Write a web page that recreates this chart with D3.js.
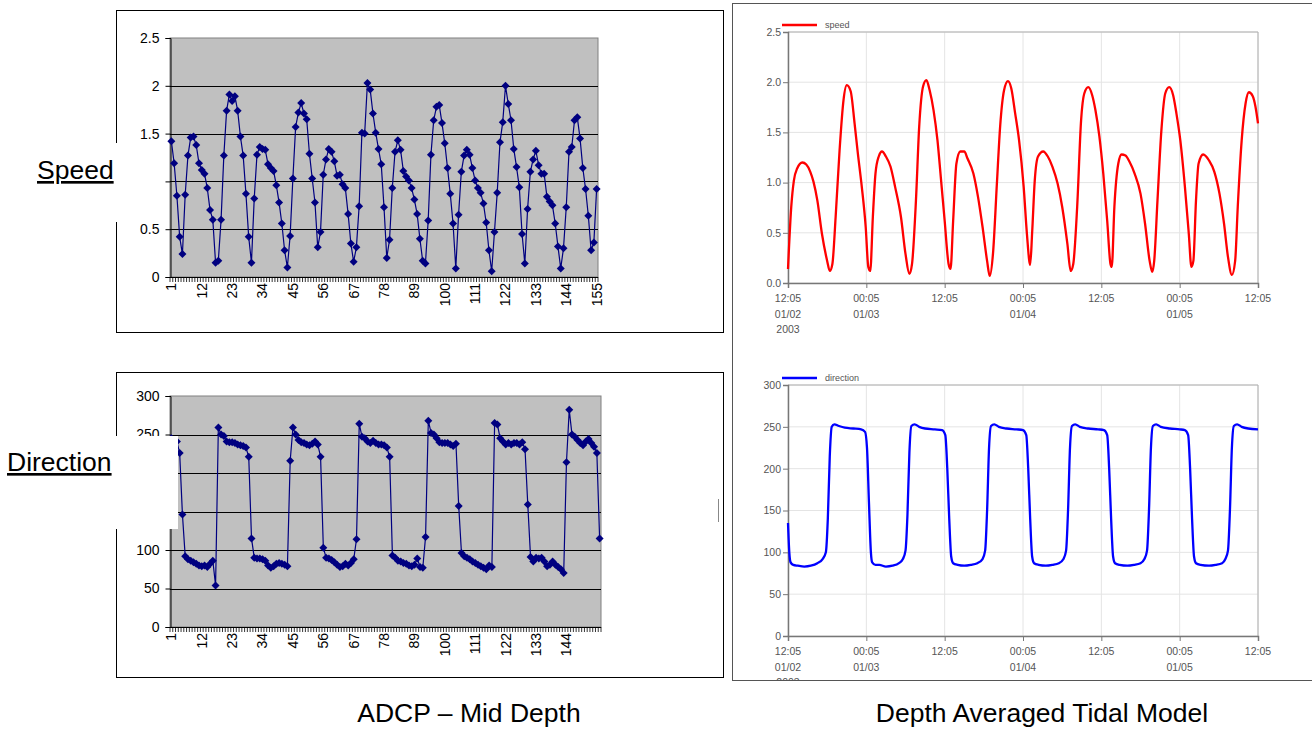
<!DOCTYPE html>
<html>
<head>
<meta charset="utf-8">
<script src="https://cdn.jsdelivr.net/npm/d3@7"></script>
<style>
  body { margin: 0; background: #fff; }
  svg { display: block; }
</style>
</head>
<body>
<script>
// ADCP mid depth, speed per sample (1..155)
const adcpSpeed = [
  1.42,1.19,0.85,0.42,0.24,0.86,1.27,1.46,1.47,1.38,
  1.19,1.12,1.08,0.93,0.70,0.60,0.15,0.17,0.60,1.27,
  1.74,1.91,1.84,1.89,1.74,1.47,1.27,0.87,0.42,0.15,
  0.82,1.28,1.36,1.34,1.33,1.18,1.14,1.11,0.96,0.78,
  0.56,0.28,0.10,0.43,1.03,1.57,1.72,1.82,1.71,1.65,
  1.29,1.03,0.78,0.31,0.47,1.07,1.23,1.34,1.31,1.21,
  1.06,1.07,0.97,0.93,0.66,0.35,0.16,0.31,0.74,1.51,
  1.50,2.03,1.96,1.71,1.51,1.34,1.18,0.73,0.20,0.39,
  0.93,1.31,1.43,1.33,1.11,1.05,1.01,0.93,0.81,0.66,
  0.40,0.17,0.14,0.59,1.28,1.64,1.78,1.80,1.61,1.40,
  1.14,0.87,0.56,0.09,0.65,1.10,1.27,1.33,1.28,1.14,
  1.01,0.93,0.88,0.77,0.57,0.28,0.06,0.47,0.88,1.41,
  1.62,2.00,1.81,1.64,1.34,1.15,0.94,0.45,0.14,0.71,
  1.10,1.23,1.32,1.17,1.08,1.08,0.84,0.79,0.75,0.56,
  0.32,0.09,0.30,0.73,1.31,1.36,1.64,1.67,1.45,1.14,
  0.92,0.64,0.28,0.36,0.92
];

// ADCP mid depth, direction per sample (1..156)
const adcpDirection = [
  245,243,241,226,146,92,88,86,84,82,
  80,79,80,78,82,86,54,259,250,248,
  241,240,240,239,237,236,235,233,221,115,
  90,89,89,88,86,80,77,79,82,83,
  82,81,79,216,259,250,243,240,239,237,
  236,238,241,237,221,103,90,89,87,84,
  81,78,79,82,80,83,88,114,264,247,
  245,241,239,242,239,237,237,236,233,221,
  93,90,86,85,83,82,80,79,81,89,
  78,77,117,268,252,250,245,240,239,239,
  239,237,235,238,157,96,92,90,88,85,
  83,81,79,77,75,80,78,265,263,245,
  241,237,239,237,239,239,237,240,231,159,
  91,85,90,89,90,85,79,81,85,81,
  78,75,70,214,282,250,247,243,239,236,
  241,244,239,234,226,115
];

const speedTickLabels = ["1","12","23","34","45","56","67","78","89","100","111","122","133","144","155"];
const dirTickLabels = ["1","12","23","34","45","56","67","78","89","100","111","122","133","144"];

// depth averaged tidal model, hours after 01/02 12:05
const modelSpeedHours = [
  0.0,0.5,0.9,1.4,2.2,2.8,3.4,3.9,4.5,5.2,
  6.0,6.4,6.8,7.3,7.9,8.5,9.0,9.6,10.2,10.7,
  11.3,11.9,12.3,12.6,13.0,13.4,13.9,14.4,15.0,15.7,
  16.4,17.3,18.0,18.6,19.0,19.6,20.1,20.7,21.2,21.7,
  22.3,22.9,23.4,24.0,24.6,24.9,25.3,25.8,26.4,27.0,
  27.5,28.4,29.1,29.8,30.5,30.9,31.4,32.0,32.5,33.1,
  33.7,34.2,34.8,35.4,36.1,36.6,37.1,37.4,37.8,38.3,
  39.1,39.8,40.5,41.3,42.0,42.8,43.3,43.7,44.3,44.9,
  45.4,46.0,46.6,47.1,47.7,48.3,48.9,49.4,49.6,50.0,
  50.6,51.1,51.7,52.3,53.1,54.0,54.7,55.4,55.8,56.1,
  56.6,57.2,57.8,58.4,59.0,59.5,60.1,60.8,61.4,61.8,
  62.1,62.5,62.9,63.6,64.5,65.3,66.1,66.8,67.4,68.0,
  68.5,68.9,69.5,70.1,70.6,71.2,71.6,72.0
];
const modelSpeed = [
  0.14,0.76,1.02,1.14,1.20,1.18,1.11,1.01,0.82,0.49,
  0.22,0.12,0.19,0.66,1.32,1.82,1.97,1.91,1.59,1.29,
  0.96,0.56,0.16,0.12,0.66,1.09,1.26,1.31,1.26,1.16,
  0.96,0.66,0.29,0.09,0.19,0.82,1.56,1.96,2.02,1.92,
  1.72,1.42,1.06,0.62,0.19,0.14,0.62,1.19,1.31,1.31,
  1.24,1.09,0.86,0.56,0.22,0.07,0.29,0.99,1.56,1.92,
  2.01,1.94,1.69,1.42,0.96,0.49,0.18,0.50,1.02,1.26,
  1.31,1.26,1.16,0.99,0.76,0.39,0.12,0.19,0.76,1.62,
  1.89,1.95,1.87,1.72,1.46,1.09,0.62,0.19,0.16,0.76,
  1.19,1.28,1.27,1.21,1.09,0.89,0.59,0.22,0.11,0.22,
  0.82,1.52,1.89,1.95,1.87,1.69,1.42,0.96,0.49,0.16,
  0.22,0.82,1.19,1.28,1.22,1.11,0.89,0.59,0.26,0.08,
  0.22,0.76,1.42,1.79,1.90,1.86,1.76,1.59
];

const modelDirHours = [
  0.0,0.2,0.4,0.8,1.5,2.5,3.5,4.5,5.3,5.8,
  6.1,6.4,6.7,7.1,7.8,8.7,10.0,11.2,11.8,12.1,
  12.4,12.7,12.9,13.4,14.0,15.0,16.0,17.0,17.6,18.0,
  18.3,18.6,18.9,19.4,20.1,21.0,22.5,23.6,24.1,24.4,
  24.7,25.0,25.3,26.0,27.0,28.0,29.0,29.8,30.2,30.5,
  30.8,31.1,31.6,32.3,33.5,35.0,36.0,36.5,36.8,37.1,
  37.4,37.7,38.4,39.5,40.5,41.5,42.2,42.6,42.9,43.2,
  43.5,44.0,44.7,46.0,47.5,48.4,48.9,49.2,49.5,49.8,
  50.1,50.8,52.0,53.0,54.0,54.6,55.0,55.3,55.6,55.9,
  56.4,57.1,58.5,60.0,60.8,61.3,61.6,61.9,62.2,62.5,
  63.2,64.5,65.5,66.5,67.0,67.4,67.7,68.0,68.3,68.8,
  69.5,70.5,72.0
];
const modelDirection = [
  135,100,88,85,84,83,84,87,92,100,
  140,215,250,253,251,249,248,247,244,225,
  160,100,88,85,85,83,84,87,92,102,
  145,220,251,253,250,248,247,246,240,200,
  140,95,87,85,84,85,87,92,102,150,
  225,251,253,250,248,247,246,240,200,140,
  95,87,85,84,85,87,92,102,150,225,
  251,253,250,248,247,246,240,200,140,95,
  87,85,84,85,87,92,102,150,225,251,
  253,250,248,247,246,240,200,140,95,87,
  85,84,85,87,92,102,150,225,251,253,
  250,248,247
];

const timeTicks = [0, 12, 24, 36, 48, 60, 72];
const timeTickLabels = [
  ["12:05","01/02","2003"], ["00:05","01/03"], ["12:05"], ["00:05","01/04"],
  ["12:05"], ["00:05","01/05"], ["12:05"]
];

const svg = d3.select("body").append("svg")
  .attr("width", 1312)
  .attr("height", 729);

const excelFont = "'Liberation Sans', Arial, sans-serif";
const navy = "#000080";

// Excel style line chart with diamond markers
function excelChart(values, labels, xr, yr, yDomain, yTicks) {
  const cats = d3.range(1, values.length + 1);
  const x = d3.scaleBand().domain(cats).range(xr);
  const y = d3.scaleLinear().domain(yDomain).range(yr);
  const g = svg.append("g");

  g.append("rect")
    .attr("x", xr[0]).attr("y", yr[1])
    .attr("width", xr[1] - xr[0]).attr("height", yr[0] - yr[1])
    .attr("fill", "#c0c0c0")
    .attr("stroke", "#808080");

  g.selectAll(".grid")
    .data(yTicks.filter(t => t > yDomain[0] && t < yDomain[1]))
    .join("line")
    .attr("x1", xr[0]).attr("x2", xr[1])
    .attr("y1", d => Math.round(y(d)) + 0.5).attr("y2", d => Math.round(y(d)) + 0.5)
    .attr("stroke", "#000");

  // y axis, excel "general" number format
  const ya = g.append("g")
    .attr("transform", `translate(${xr[0] + 0.5},0)`)
    .call(d3.axisLeft(y).tickValues(yTicks).tickFormat(d => String(d))
      .tickSizeOuter(0).tickSize(5).tickPadding(6));
  ya.select(".domain").attr("stroke", "#000");
  ya.selectAll("text").style("font-family", excelFont).style("font-size", "14px").attr("fill", "#000");

  // x axis line with a tick at each category boundary
  g.append("line")
    .attr("x1", xr[0]).attr("x2", xr[1])
    .attr("y1", yr[0] + 0.5).attr("y2", yr[0] + 0.5)
    .attr("stroke", "#000");
  g.selectAll(".ctick")
    .data(cats.concat([null]))
    .join("line")
    .attr("x1", d => d === null ? xr[1] : x(d))
    .attr("x2", d => d === null ? xr[1] : x(d))
    .attr("y1", yr[0]).attr("y2", yr[0] + 5)
    .attr("stroke", "#000")
    .attr("stroke-width", 0.8);

  g.selectAll(".xlab")
    .data(labels)
    .join("text")
    .attr("transform", d => `translate(${x(+d) + x.bandwidth() / 2},${yr[0] + 6}) rotate(-90)`)
    .attr("text-anchor", "end")
    .attr("dy", "0.35em")
    .style("font-family", excelFont)
    .style("font-size", "14px")
    .text(d => d);

  const line = d3.line()
    .x((d, i) => x(i + 1) + x.bandwidth() / 2)
    .y(d => y(d));
  g.append("path")
    .datum(values)
    .attr("d", line)
    .attr("fill", "none")
    .attr("stroke", navy)
    .attr("stroke-width", 1.2);

  g.selectAll(".mk")
    .data(values)
    .join("path")
    .attr("transform", (d, i) => `translate(${x(i + 1) + x.bandwidth() / 2},${y(d)})`)
    .attr("d", "M0,-4L4,0L0,4L-4,0Z")
    .attr("fill", navy);
}

// model plot, gray small labels, light grid
function modelChart(hours, values, color, name, yr, yDomain, yTicks, yFmt) {
  const x = d3.scaleLinear().domain([0, 72]).range([788, 1258]);
  const y = d3.scaleLinear().domain(yDomain).range(yr);
  const g = svg.append("g");
  const gridCol = "#e4e4e4";

  g.selectAll(".hg")
    .data(yTicks)
    .join("line")
    .attr("x1", 788).attr("x2", 1258)
    .attr("y1", d => y(d)).attr("y2", d => y(d))
    .attr("stroke", gridCol);
  g.selectAll(".vg")
    .data(timeTicks)
    .join("line")
    .attr("x1", d => x(d)).attr("x2", d => x(d))
    .attr("y1", yr[1]).attr("y2", yr[0])
    .attr("stroke", gridCol);

  // frame
  g.append("path")
    .attr("d", `M788,${yr[1]}H1258V${yr[0]}`)
    .attr("fill", "none")
    .attr("stroke", "#b0b0b0");

  const ya = g.append("g")
    .attr("transform", "translate(788,0)")
    .call(d3.axisLeft(y).tickValues(yTicks).tickFormat(yFmt).tickSizeOuter(0).tickSize(5).tickPadding(2));
  ya.select(".domain").attr("stroke", "#777").attr("stroke-width", 1.5);
  ya.selectAll("line").attr("stroke", "#777");
  ya.selectAll("text").style("font-family", excelFont).style("font-size", "10.5px").attr("fill", "#555");

  const xa = g.append("g")
    .attr("transform", `translate(0,${yr[0]})`)
    .call(d3.axisBottom(x).tickValues(timeTicks).tickFormat("").tickSizeOuter(0).tickSize(5));
  xa.select(".domain").attr("stroke", "#777").attr("stroke-width", 1.5);
  xa.selectAll("line").attr("stroke", "#777");

  timeTicks.forEach((t, i) => {
    timeTickLabels[i].forEach((s, j) => {
      g.append("text")
        .attr("x", x(t)).attr("y", yr[0] + 19 + j * 15.5)
        .attr("text-anchor", "middle")
        .style("font-family", excelFont)
        .style("font-size", "10.5px")
        .attr("fill", "#555")
        .text(s);
    });
  });

  const line = d3.line()
    .x((d, i) => x(hours[i]))
    .y(d => y(d))
    .curve(d3.curveMonotoneX);
  g.append("path")
    .datum(values)
    .attr("d", line)
    .attr("fill", "none")
    .attr("stroke", color)
    .attr("stroke-width", 2.3);

  // legend
  g.append("line")
    .attr("x1", 782).attr("x2", 817)
    .attr("y1", yr[1] - 7).attr("y2", yr[1] - 7)
    .attr("stroke", color).attr("stroke-width", 2.3);
  g.append("text")
    .attr("x", 825).attr("y", yr[1] - 4)
    .style("font-family", excelFont)
    .style("font-size", "9px")
    .attr("fill", "#555")
    .text(name);
}

// panel frames
svg.append("rect").attr("x", 116.5).attr("y", 10.5).attr("width", 607).attr("height", 322)
  .attr("fill", "none").attr("stroke", "#000");
svg.append("rect").attr("x", 116.5).attr("y", 372.5).attr("width", 607).attr("height", 305)
  .attr("fill", "none").attr("stroke", "#000");
svg.append("rect").attr("x", 732.5).attr("y", 3.5).attr("width", 580).attr("height", 677)
  .attr("fill", "none").attr("stroke", "#555");

excelChart(adcpSpeed, speedTickLabels, [170, 598], [277, 38], [0, 2.5], [0, 0.5, 1, 1.5, 2, 2.5]);
excelChart(adcpDirection, dirTickLabels, [170, 601], [627, 396], [0, 300], [0, 50, 100, 150, 200, 250, 300]);

modelChart(modelSpeedHours, modelSpeed, "#ff0000", "speed", [283, 32], [0, 2.5],
  [0, 0.5, 1, 1.5, 2, 2.5], d3.format(".1f"));
modelChart(modelDirHours, modelDirection, "#0000ff", "direction", [636, 385], [0, 300],
  [0, 50, 100, 150, 200, 250, 300], d3.format("d"));

// the bottom date label row is cut by the panel edge
svg.append("rect").attr("x", 733).attr("y", 681).attr("width", 579).attr("height", 20).attr("fill", "#fff");

// label boxes pasted over the left charts
svg.append("rect").attr("x", 0).attr("y", 143).attr("width", 163).attr("height", 79).attr("fill", "#fff");
svg.append("rect").attr("x", 0).attr("y", 436).attr("width", 178).attr("height", 93).attr("fill", "#fff");

svg.append("text")
  .attr("x", 37).attr("y", 179)
  .style("font-family", excelFont).style("font-size", "26.5px")
  .style("text-decoration", "underline")
  .text("Speed");
svg.append("text")
  .attr("x", 7).attr("y", 471)
  .style("font-family", excelFont).style("font-size", "26.5px")
  .style("text-decoration", "underline")
  .text("Direction");

svg.append("line").attr("x1", 718.5).attr("x2", 718.5).attr("y1", 499).attr("y2", 522)
  .attr("stroke", "#888");

svg.append("text")
  .attr("x", 469).attr("y", 722)
  .attr("text-anchor", "middle")
  .style("font-family", excelFont).style("font-size", "26.5px")
  .text("ADCP – Mid Depth");
svg.append("text")
  .attr("x", 1042).attr("y", 722)
  .attr("text-anchor", "middle")
  .style("font-family", excelFont).style("font-size", "26.5px")
  .text("Depth Averaged Tidal Model");
</script>
</body>
</html>
